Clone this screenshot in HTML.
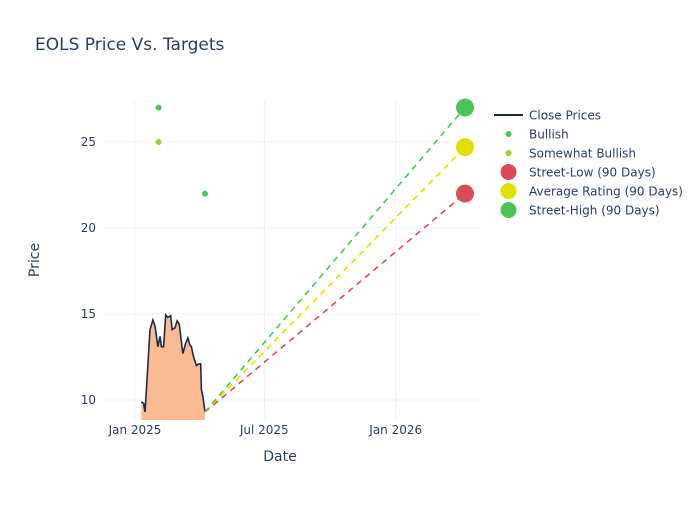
<!DOCTYPE html>
<html><head><meta charset="utf-8"><style>
body{margin:0;background:#fff}
svg text{font-family:"DejaVu Sans","Liberation Sans",sans-serif;fill:#2a3f5f}
</style></head><body>
<svg id="chart" width="700" height="500" xmlns="http://www.w3.org/2000/svg">
<rect width="700" height="500" fill="#fff"/>
<text x="35" y="50" font-size="17">EOLS Price Vs. Targets</text>
<g id="grid"></g>
<g id="plot"></g>
<g id="axes"></g>
<text x="280" y="461" font-size="14" text-anchor="middle">Date</text>
<text x="39" y="260" font-size="14" text-anchor="middle" transform="rotate(-90 39 260)">Price</text>
<g id="legend"></g>
</svg>
<script>
const closeDates=["2025-01-10","2025-01-13","2025-01-15","2025-01-17","2025-01-22","2025-01-26","2025-01-29","2025-02-02","2025-02-05","2025-02-07","2025-02-10","2025-02-13","2025-02-16","2025-02-20","2025-02-22","2025-02-26","2025-03-01","2025-03-04","2025-03-06","2025-03-09","2025-03-13","2025-03-16","2025-03-19","2025-03-21","2025-03-24","2025-03-28","2025-03-31","2025-04-03","2025-04-04","2025-04-06","2025-04-09"];
const closePrices=[9.9,9.8,9.3,10.6,14.1,14.65,14.3,13.1,13.7,13.1,13.1,14.95,14.8,14.9,14.1,14.2,14.6,14.4,13.7,12.7,13.3,13.6,13.2,13.1,12.5,12.0,12.1,12.1,10.6,10.2,9.3];
const bullishDates=["2025-02-03","2025-04-09"];
const bullishValues=[27,22];
const somewhatDates=["2025-02-03"];
const somewhatValues=[25];
const targetStartDate="2025-04-09";
const targetStartValue=9.3;
const targetDate="2026-04-08";
const targetNames=["Street-Low (90 Days)","Average Rating (90 Days)","Street-High (90 Days)"];
const targetValues=[22,24.7,27];
const yTicks=[10,15,20,25];
const xTickDates=["2025-01-01","2025-07-01","2026-01-01"];
const xTickLabels=["Jan 2025","Jul 2025","Jan 2026"];

const NS="http://www.w3.org/2000/svg";
const L=103,R=480,T=100,B=420;
const base=Date.UTC(2025,0,1);
function day(s){const p=s.split("-");return (Date.UTC(+p[0],p[1]-1,+p[2])-base)/864e5;}
function xs(s){return 135+day(s)*0.7143;}
function ys(v){return 400-(v-10)*17.2;}
function mk(tag,attrs,parent){const e=document.createElementNS(NS,tag);for(const k in attrs)e.setAttribute(k,attrs[k]);parent.appendChild(e);return e;}
const grid=document.getElementById("grid"),plot=document.getElementById("plot"),axes=document.getElementById("axes"),leg=document.getElementById("legend");
yTicks.forEach(v=>{
 const l=mk("line",{x1:L,x2:R,y1:ys(v),y2:ys(v),stroke:"#ebf0f8","stroke-width":1},grid);
 
 
 const t=mk("text",{x:L-7,y:ys(v)+4,"font-size":12,"text-anchor":"end"},axes);t.textContent=v;
 
 
});
xTickDates.forEach((d,i)=>{
 const l=mk("line",{x1:xs(d),x2:xs(d),y1:T,y2:B,stroke:"#ebf0f8","stroke-width":1},grid);
 
 
 const t=mk("text",{x:xs(d),y:B+14,"font-size":12,"text-anchor":"middle"},axes);t.textContent=xTickLabels[i];
 
 
});
// area
let pts=closeDates.map((d,i)=>xs(d).toFixed(1)+","+ys(closePrices[i]).toFixed(1));
const area=mk("polygon",{points:xs(closeDates[0]).toFixed(1)+","+B+" "+pts.join(" ")+" "+xs(closeDates[closeDates.length-1]).toFixed(1)+","+B,fill:"#f9bb94"},plot);


const line=mk("polyline",{points:pts.join(" "),fill:"none",stroke:"#1f2a44","stroke-width":1.6},plot);


const tColors=["#d64d55","#e0e000","#4dc35a"];
const tNames=["street-low","average-rating","street-high"];
targetValues.forEach((v,i)=>{
 const l=mk("line",{x1:xs(targetStartDate),y1:ys(targetStartValue),x2:xs(targetDate),y2:ys(v),stroke:tColors[i],"stroke-width":1.6,"stroke-dasharray":"6,5"},plot);
 
 
});
targetValues.forEach((v,i)=>{
 const c=mk("circle",{cx:xs(targetDate),cy:ys(v),r:9,fill:tColors[i]},plot);
 
 
});
bullishDates.forEach((d,i)=>{
 const c=mk("circle",{cx:xs(d),cy:ys(bullishValues[i]),r:3,fill:"#4dc35a"},plot);
 
 
});
somewhatDates.forEach((d,i)=>{
 const c=mk("circle",{cx:xs(d),cy:ys(somewhatValues[i]),r:3,fill:"#9acd32"},plot);
 
 
});
// legend
const items=[["Close Prices","line","#1f2a44"],["Bullish","s","#4dc35a"],["Somewhat Bullish","s","#9acd32"],[targetNames[0],"b",tColors[0]],[targetNames[1],"b",tColors[1]],[targetNames[2],"b",tColors[2]]];
items.forEach((it,i)=>{
 const y=115+i*19;
 const g=mk("g",{},leg);
 
 
 if(it[1]=="line")mk("line",{x1:494,x2:523,y1:y,y2:y,stroke:it[2],"stroke-width":2},g);
 else mk("circle",{cx:508.5,cy:y,r:it[1]=="s"?3:8,fill:it[2]},g);
 const t=mk("text",{x:529,y:y+4.5,"font-size":12},g);t.textContent=it[0];
});
</script>
</body></html>
